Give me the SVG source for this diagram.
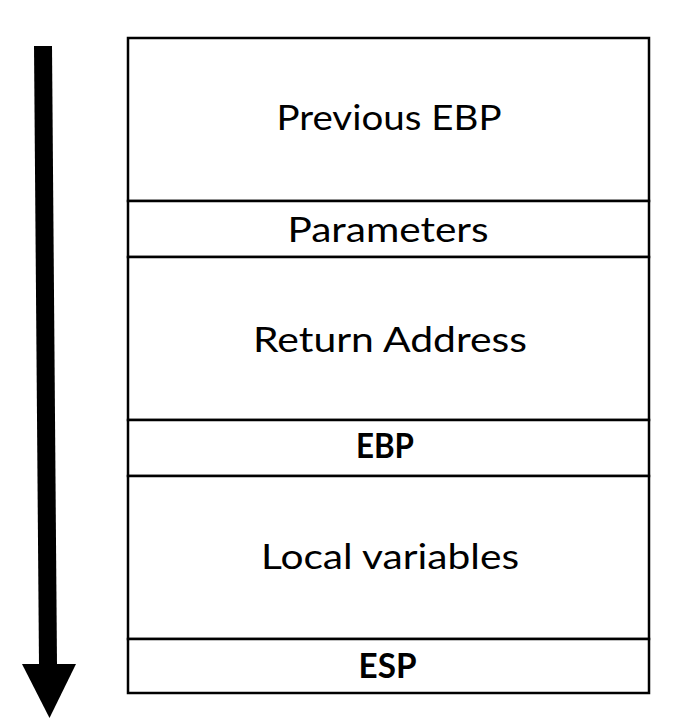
<svg xmlns="http://www.w3.org/2000/svg" width="689" height="728" viewBox="0 0 689 728">
<style>
.cell{fill:#fff;stroke:#000;stroke-width:2.5}
.t{font-family:Lato,"Open Sans","Liberation Sans",sans-serif;font-size:34px;fill:#000;text-anchor:middle}
.b{font-weight:bold}
</style>
<rect width="689" height="728" fill="#fff"/>
<g id="connectors">
<polygon points="34,46 52,46 57,665 39,665" fill="#000"/>
<polygon points="22,664 76,664 49.5,718" fill="#000"/>
</g>
<g id="prev-ebp"><rect class="cell" x="128" y="38" width="521" height="163"/><text class="t" x="389" y="130" textLength="225" lengthAdjust="spacingAndGlyphs">Previous EBP</text></g>
<g id="parameters"><rect class="cell" x="128" y="201" width="521" height="56"/><text class="t" x="388" y="242" textLength="201" lengthAdjust="spacingAndGlyphs">Parameters</text></g>
<g id="return-address"><rect class="cell" x="128" y="257" width="521" height="163"/><text class="t" x="390" y="352" textLength="274" lengthAdjust="spacingAndGlyphs">Return Address</text></g>
<g id="ebp"><rect class="cell" x="128" y="420" width="521" height="56"/><text class="t b" x="385" y="458" textLength="58" lengthAdjust="spacingAndGlyphs">EBP</text></g>
<g id="local-variables"><rect class="cell" x="128" y="476" width="521" height="163"/><text class="t" x="390" y="569" textLength="258" lengthAdjust="spacingAndGlyphs">Local variables</text></g>
<g id="esp"><rect class="cell" x="128" y="639" width="521" height="54"/><text class="t b" x="387.5" y="678" textLength="58" lengthAdjust="spacingAndGlyphs">ESP</text></g>
</svg>
